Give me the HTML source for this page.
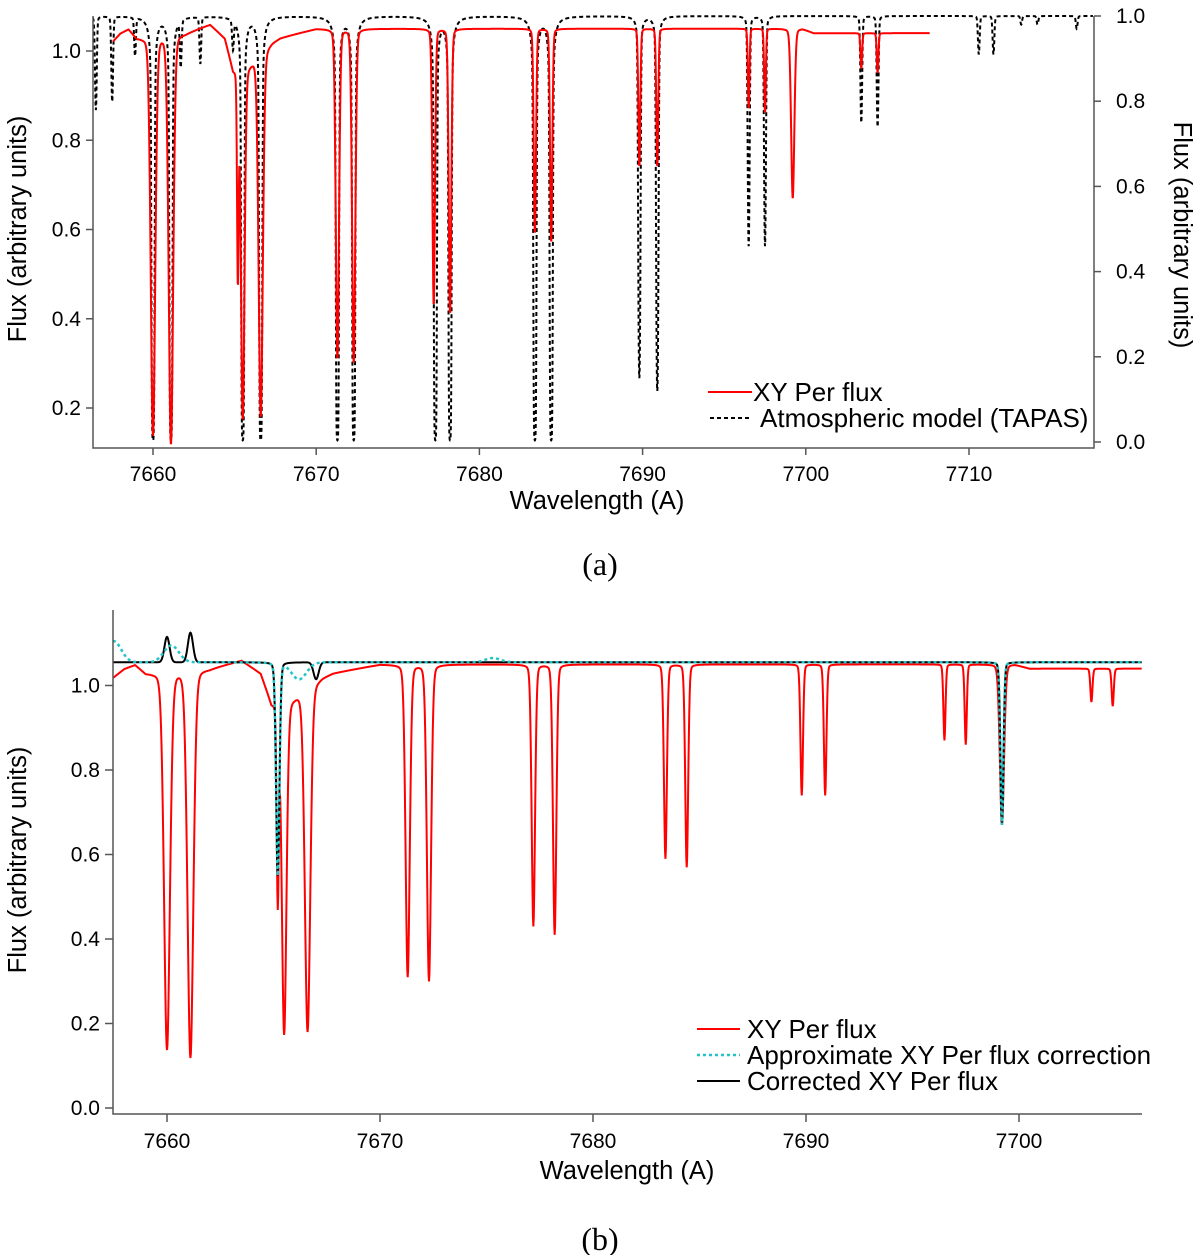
<!DOCTYPE html>
<html><head><meta charset="utf-8"><style>
body{margin:0;background:#fff;}
svg{display:block;font-family:"Liberation Sans",sans-serif;}
</style></head><body>
<svg id="fig" width="1200" height="1255" viewBox="0 0 1200 1255">
<text x="597" y="509" font-size="25.5" text-anchor="middle">Wavelength (A)</text>
<text transform="translate(26,229) rotate(-90)" font-size="25.5" text-anchor="middle">Flux (arbitrary units)</text>
<text transform="translate(1174,235) rotate(90)" font-size="25.5" text-anchor="middle">Flux (arbitrary units)</text>
<text x="600" y="575" font-size="32" text-anchor="middle" font-family="Liberation Serif,serif">(a)</text>
<g>
<line x1="708" y1="392" x2="752" y2="392" stroke="#f00" stroke-width="2"/>
<text x="753" y="401" font-size="26">XY Per flux</text>
<line x1="710" y1="418" x2="752" y2="418" stroke="#000" stroke-width="2" stroke-dasharray="4,3"/>
<text x="760" y="427" font-size="26">Atmospheric model (TAPAS)</text>
</g>
<text x="627" y="1179" font-size="25.5" text-anchor="middle">Wavelength (A)</text>
<text transform="translate(26,860) rotate(-90)" font-size="25.5" text-anchor="middle">Flux (arbitrary units)</text>
<text x="600" y="1250" font-size="32" text-anchor="middle" font-family="Liberation Serif,serif">(b)</text>
<g>
<line x1="697" y1="1029" x2="740" y2="1029" stroke="#f00" stroke-width="2"/>
<text x="747" y="1038" font-size="26">XY Per flux</text>
<line x1="697" y1="1055" x2="740" y2="1055" stroke="#22c4c8" stroke-width="2.5" stroke-dasharray="3,3"/>
<text x="747" y="1064" font-size="26">Approximate XY Per flux correction</text>
<line x1="697" y1="1081" x2="740" y2="1081" stroke="#000" stroke-width="2"/>
<text x="747" y="1090" font-size="26">Corrected XY Per flux</text>
</g>
</svg>
<script>
// ---- Data ----
const redLineCenters = [7660.0, 7661.1, 7665.2, 7665.5, 7666.6, 7671.3, 7672.3, 7677.2, 7678.2, 7683.4, 7684.4, 7689.8, 7690.9, 7696.5, 7697.5, 7699.2, 7703.4, 7704.4];
const redLineMins    = [0.14, 0.12, 0.53, 0.19, 0.19, 0.31, 0.30, 0.43, 0.41, 0.59, 0.57, 0.74, 0.74, 0.87, 0.86, 0.67, 0.97, 0.96];
const redLineSigmas  = [0.14, 0.14, 0.05, 0.11, 0.13, 0.1, 0.1, 0.08, 0.08, 0.07, 0.07, 0.06, 0.06, 0.05, 0.05, 0.1, 0.05, 0.05];
const redContWave  = [7657.5, 7658.0, 7658.5, 7659.0, 7659.4, 7662.0, 7663.5, 7664.4, 7664.9, 7665.6, 7667.3, 7667.8, 7670, 7680, 7690, 7699.8, 7700.5, 7707.6];
const redContFlux  = [1.02, 1.04, 1.05, 1.03, 1.03, 1.04, 1.06, 1.03, 0.96, 0.96, 1.02, 1.03, 1.05, 1.05, 1.05, 1.05, 1.04, 1.04];
const tapasCenters = [7656.5, 7657.5, 7658.9, 7660.0, 7661.1, 7661.7, 7662.9, 7664.9, 7665.5, 7666.6, 7671.3, 7672.3, 7677.3, 7678.2, 7683.4, 7684.4, 7689.8, 7690.9, 7696.5, 7697.5, 7703.4, 7704.4, 7710.6, 7711.5, 7713.2, 7714.2, 7716.6];
const tapasMins    = [0.78, 0.80, 0.91, 0.0, 0.0, 0.89, 0.89, 0.93, 0.0, 0.0, 0.0, 0.0, 0.0, 0.0, 0.0, 0.0, 0.15, 0.12, 0.46, 0.46, 0.75, 0.74, 0.91, 0.91, 0.98, 0.98, 0.97];
const corrLineCenters = [7665.2, 7699.2];
const corrLineMins    = [0.55, 0.67];
const cyanBumpCenters = [7657.5, 7660.2, 7666.2, 7675.3];
const cyanBumpAmps    = [0.05, 0.04, -0.04, 0.01];
const blackBumpCenters= [7660.0, 7661.1, 7666.2, 7667.0];
const blackBumpAmps   = [0.06, 0.07, 0.0, -0.04];

const topXTicks = [7660, 7670, 7680, 7690, 7700, 7710];
const topYTicksL = [0.2, 0.4, 0.6, 0.8, 1.0];
const topYTicksR = [0.0, 0.2, 0.4, 0.6, 0.8, 1.0];
const botXTicks = [7660, 7670, 7680, 7690, 7700];
const botYTicks = [0.0, 0.2, 0.4, 0.6, 0.8, 1.0];

const NS = "http://www.w3.org/2000/svg";
const svg = document.getElementById('fig');
function mk(tag, attrs, parent){const e=document.createElementNS(NS,tag);for(const k in attrs)e.setAttribute(k,attrs[k]);(parent||svg).appendChild(e);return e;}
function interp(xs, ys, x){if(x<=xs[0])return ys[0];for(let i=1;i<xs.length;i++){if(x<=xs[i]){const t=(x-xs[i-1])/(xs[i]-xs[i-1]);return ys[i-1]+t*(ys[i]-ys[i-1]);}}return ys[ys.length-1];}
function redFlux(x){let f=interp(redContWave,redContFlux,x);for(let i=0;i<redLineCenters.length;i++){const d=(1.05-redLineMins[i])/1.05;const s=redLineSigmas[i];const dx=(x-redLineCenters[i])/s;const p=0.85*Math.exp(-0.5*dx*dx)+0.15/(1+dx*dx);f*=1-d*p;}return f;}
function tapasFlux(x){let tau=0;for(let i=0;i<tapasCenters.length;i++){const m=Math.max(tapasMins[i],0.004);const t=-Math.log(m);const s=0.05;const dx=(x-tapasCenters[i])/s;tau+=t*(0.93*Math.exp(-0.5*dx*dx)+0.07/(1+dx*dx/4));}return Math.exp(-tau);}
function corrBase(x){let f=1.055;for(let i=0;i<corrLineCenters.length;i++){const d=(1.055-corrLineMins[i])/1.055;const s=i==0?0.08:0.07;const dx=(x-corrLineCenters[i])/s;f*=1-d*(0.85*Math.exp(-0.5*dx*dx)+0.15/(1+dx*dx));}return f;}
function bumps(x,cs,as,w){let v=0;for(let i=0;i<cs.length;i++){const dx=(x-cs[i])/w;v+=as[i]*Math.exp(-0.5*dx*dx);}return v;}
function pathFrom(fx,fy,x0,x1,step,f){let d='';for(let x=x0;x<=x1+1e-9;x+=step){d+=(d?'L':'M')+fx(x).toFixed(2)+','+fy(f(x)).toFixed(2);}return d;}

// ---- Panel (a) ----
(function(){
const A={L:93,R:1094,T:16,B:448};
const axW=w=>153+(w-7660)*16.32;
const ayL=v=>51+(1.0-v)*446.25;
const ayR=v=>442-v*426;
const ga=mk('g',{});


const cp=mk('clipPath',{id:'ca'},ga);mk('rect',{x:A.L,y:A.T-4,width:A.R-A.L,height:A.B-A.T+4},cp);
const tap=mk('path',{d:pathFrom(axW,ayR,7656.3,7717.6,0.01,tapasFlux),fill:'none',stroke:'#000','stroke-width':2,'stroke-dasharray':'4,3','clip-path':'url(#ca)'},ga);


const red=mk('path',{d:pathFrom(axW,ayL,7657.55,7707.6,0.02,redFlux),fill:'none',stroke:'#f00','stroke-width':2,'clip-path':'url(#ca)'},ga);


mk('path',{d:`M${A.L},${A.T}V${A.B}H${A.R}V${A.T}`,fill:'none',stroke:'#555','stroke-width':1.5},ga);
topXTicks.forEach(t=>{const x=axW(t);mk('line',{x1:x,x2:x,y1:A.B,y2:A.B+7,stroke:'#555','stroke-width':1.5},ga);const tx=mk('text',{x:x,y:A.B+33,'font-size':21,'text-anchor':'middle'},ga);tx.textContent=t;

});
topYTicksL.forEach(t=>{const y=ayL(t);mk('line',{x1:A.L-7,x2:A.L,y1:y,y2:y,stroke:'#555','stroke-width':1.5},ga);const tx=mk('text',{x:A.L-12,y:y+7,'font-size':21,'text-anchor':'end'},ga);tx.textContent=t.toFixed(1);

});
topYTicksR.forEach(t=>{const y=ayR(t);mk('line',{x1:A.R,x2:A.R+7,y1:y,y2:y,stroke:'#555','stroke-width':1.5},ga);const tx=mk('text',{x:A.R+22,y:y+7,'font-size':21,'text-anchor':'start'},ga);tx.textContent=t.toFixed(1);

});
})();

// ---- Panel (b) ----
(function(){
const B={L:113,R:1142,T:610,B:1114};
const bx=w=>167+(w-7660)*21.3;
const by=v=>1108-v*422.5;
const gb=mk('g',{});


const cp=mk('clipPath',{id:'cb'},gb);mk('rect',{x:B.L,y:B.T,width:B.R-B.L,height:B.B-B.T},cp);
const r=mk('path',{d:pathFrom(bx,by,7657.46,7705.77,0.02,redFlux),fill:'none',stroke:'#f00','stroke-width':2,'clip-path':'url(#cb)'},gb);


const k=mk('path',{d:pathFrom(bx,by,7657.46,7705.77,0.02,x=>corrBase(x)+bumps(x,blackBumpCenters,blackBumpAmps,0.12)),fill:'none',stroke:'#000','stroke-width':2,'clip-path':'url(#cb)'},gb);


const c=mk('path',{d:pathFrom(bx,by,7657.46,7705.77,0.02,x=>corrBase(x)+bumps(x,cyanBumpCenters,cyanBumpAmps,0.35)),fill:'none',stroke:'#22c4c8','stroke-width':2.5,'stroke-dasharray':'3,3','clip-path':'url(#cb)'},gb);


mk('path',{d:`M${B.L},${B.T}V${B.B}H${B.R}`,fill:'none',stroke:'#555','stroke-width':1.5},gb);
botXTicks.forEach(t=>{const x=bx(t);mk('line',{x1:x,x2:x,y1:B.B,y2:B.B+8,stroke:'#555','stroke-width':1.5},gb);const tx=mk('text',{x:x,y:B.B+34,'font-size':21,'text-anchor':'middle'},gb);tx.textContent=t;

});
botYTicks.forEach(t=>{const y=by(t);mk('line',{x1:B.L-8,x2:B.L,y1:y,y2:y,stroke:'#555','stroke-width':1.5},gb);const tx=mk('text',{x:B.L-13,y:y+7,'font-size':21,'text-anchor':'end'},gb);tx.textContent=t.toFixed(1);

});
})();
</script>
</body></html>
